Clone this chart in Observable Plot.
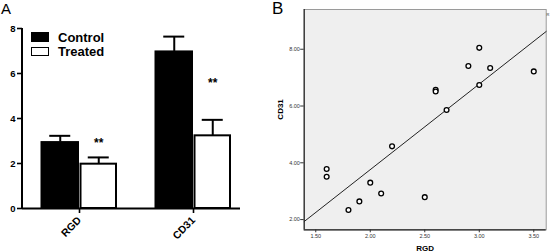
<!DOCTYPE html>
<html>
<head>
<meta charset="utf-8">
<script src="https://cdn.jsdelivr.net/npm/d3@7"></script>
<script src="https://cdn.jsdelivr.net/npm/@observablehq/plot@0.6"></script>
<style>
  html, body { margin: 0; padding: 0; background: white; }
  #wrap { position: relative; width: 550px; height: 252px; overflow: hidden; font-family: "Liberation Sans", Arial, sans-serif; }
  #wrap svg { position: absolute; top: 0; }
  .panel { position: absolute; font-weight: normal; line-height: 1; }
  .leg { position: absolute; font-weight: bold; font-size: 13px; line-height: 13px; }
  .sw { position: absolute; box-sizing: border-box; }
</style>
</head>
<body>
<div id="wrap">
  <div class="panel" style="left:1px;top:1px;font-size:15px;">A</div>
  <div class="panel" style="left:272px;top:0px;font-size:17px;">B</div>
  <div class="sw" style="left:31px;top:32px;width:18px;height:9.5px;background:black;"></div>
  <div class="sw" style="left:31px;top:47px;width:18px;height:8.5px;background:white;border:1.6px solid black;"></div>
  <div class="leg" style="left:58px;top:30.5px;">Control</div>
  <div class="leg" style="left:58px;top:45px;">Treated</div>
</div>
<script>
// ---------- Panel A data ----------
const groups = ["RGD", "CD31"];
const seriesNames = ["Control", "Treated"];
const controlMean = [2.95, 6.98];
const controlErr = [0.28, 0.66];
const treatedMean = [1.97, 3.23];
const treatedErr = [0.30, 0.71];
const sigLabels = ["**", "**"];
const sigY = [2.92, 5.56];
const yTicksA = [0, 2, 4, 6, 8];

// ---------- Panel B data ----------
const rgd  = [1.60, 1.60, 1.80, 1.90, 2.00, 2.10, 2.20, 2.50, 2.60, 2.60, 2.70, 2.90, 3.00, 3.00, 3.10, 3.50];
const cd31 = [3.78, 3.51, 2.34, 2.64, 3.30, 2.92, 4.58, 2.79, 6.57, 6.51, 5.86, 7.41, 8.05, 6.74, 7.34, 7.22];
const xTicksB = [1.5, 2.0, 2.5, 3.0, 3.5];
const yTicksB = [2, 4, 6, 8];

const font = "'Liberation Sans', Arial, sans-serif";
const wrap = document.getElementById("wrap");

// ---------- Panel A ----------
const control = groups.map((g, i) => ({group: g, series: seriesNames[0], mean: controlMean[i], err: controlErr[i]}));
const treated = groups.map((g, i) => ({group: g, series: seriesNames[1], mean: treatedMean[i], err: treatedErr[i]}));
const half = 38.5;   // half of a group band, px
const quarter = half / 2;
const capInset = (2 * half - 22) / 2;
const mLeftA = 22;

const plotA = Plot.plot({
  width: 245, height: 252,
  marginLeft: mLeftA, marginRight: 5, marginTop: 28, marginBottom: 44,
  style: {fontFamily: font, color: "black", background: "transparent", overflow: "visible"},
  x: {domain: groups, paddingInner: 0.33, paddingOuter: 0.113, align: 0.69, label: null},
  y: {domain: [0, 8], label: null},
  marks: [
    Plot.ruleX(control, {x: "group", y1: "mean", y2: d => d.mean + d.err, dx: -quarter, strokeWidth: 2}),
    Plot.tickY(control, {x: "group", y: d => d.mean + d.err, dx: -quarter, insetLeft: capInset, insetRight: capInset, strokeWidth: 2}),
    Plot.ruleX(treated, {x: "group", y1: "mean", y2: d => d.mean + d.err, dx: quarter, strokeWidth: 2}),
    Plot.tickY(treated, {x: "group", y: d => d.mean + d.err, dx: quarter, insetLeft: capInset, insetRight: capInset, strokeWidth: 2}),
    Plot.barY(control, {x: "group", y: "mean", fill: "black", stroke: "black", strokeWidth: 1, insetRight: half}),
    Plot.barY(treated, {x: "group", y: "mean", fill: "white", stroke: "black", strokeWidth: 2, insetLeft: half + 1, insetRight: 1}),
    Plot.text(groups, {x: d => d, y: (d, i) => sigY[i], text: (d, i) => sigLabels[i], dx: quarter, fontSize: 12, fontWeight: "bold"}),
    Plot.ruleY([0], {strokeWidth: 2}),
    Plot.axisY({ticks: yTicksA, tickSize: 5, tickPadding: 2, strokeWidth: 1.6, fontSize: 9.5, fontWeight: "bold", label: null}),
    Plot.axisX({tickSize: 5, tickPadding: 5, tickRotate: -45, strokeWidth: 1.6, fontSize: 10.5, fontWeight: "bold", label: null})
  ]
});
{
  const ys = plotA.scale("y");
  d3.select(plotA).append("line")
    .attr("x1", mLeftA).attr("x2", mLeftA)
    .attr("y1", ys.apply(8)).attr("y2", ys.apply(0) + 1)
    .attr("stroke", "black").attr("stroke-width", 2);
}
plotA.style.left = "0px";
wrap.appendChild(plotA);

// ---------- Panel B ----------
const pts = rgd.map((x, i) => ({x, y: cd31[i]}));
const mx = d3.mean(rgd), my = d3.mean(cd31);
const slope = d3.sum(rgd, (x, i) => (x - mx) * (cd31[i] - my)) / d3.sum(rgd, x => (x - mx) ** 2);
const intercept = my - slope * mx;
const xDomainB = [1.394, 3.614];
const yDomainB = [1.64, 9.40];
const fitLine = xDomainB.map(x => ({x, y: intercept + slope * x}));

const plotB = Plot.plot({
  width: 300, height: 252,
  marginLeft: 53.7, marginRight: 4.3, marginTop: 9, marginBottom: 22.7,
  style: {fontFamily: font, color: "black", background: "transparent", overflow: "visible"},
  x: {domain: xDomainB, label: null},
  y: {domain: yDomainB, label: null},
  marks: [
    Plot.frame({fill: "#efefef", stroke: "#9a9a9a"}),
    Plot.ruleX([xDomainB[0]], {stroke: "#222", strokeWidth: 1.2}),
    Plot.ruleY([yDomainB[0]], {stroke: "#222", strokeWidth: 1.2}),
    Plot.axisX({ticks: xTicksB, tickFormat: d3.format(".2f"), tickSize: 3, tickPadding: 1.5, fontSize: 5.5, fill: "#333", stroke: "#333", label: null}),
    Plot.axisY({ticks: yTicksB, tickFormat: d3.format(".2f"), tickSize: 3.5, tickPadding: 0.8, fontSize: 5.5, fill: "#333", stroke: "#333", label: null}),
    Plot.line(fitLine, {x: "x", y: "y", stroke: "#222", strokeWidth: 1}),
    Plot.dot(pts, {x: "x", y: "y", r: 2.4, stroke: "black", fill: "white", strokeWidth: 1.3}),
    Plot.text(["RGD"], {frameAnchor: "bottom", dy: 18.7, fontSize: 8, fontWeight: "bold", lineAnchor: "middle", fill: "black"}),
    Plot.text(["CD31"], {frameAnchor: "left", dx: -24.2, rotate: -90, fontSize: 8, fontWeight: "bold", lineAnchor: "middle", fill: "black"}),
    Plot.text(["R"], {frameAnchor: "top-right", dx: 0.3, dy: 4, fontSize: 4, textAnchor: "start", fill: "#333"})
  ]
});
plotB.style.left = "250px";
wrap.appendChild(plotB);
</script>
</body>
</html>
